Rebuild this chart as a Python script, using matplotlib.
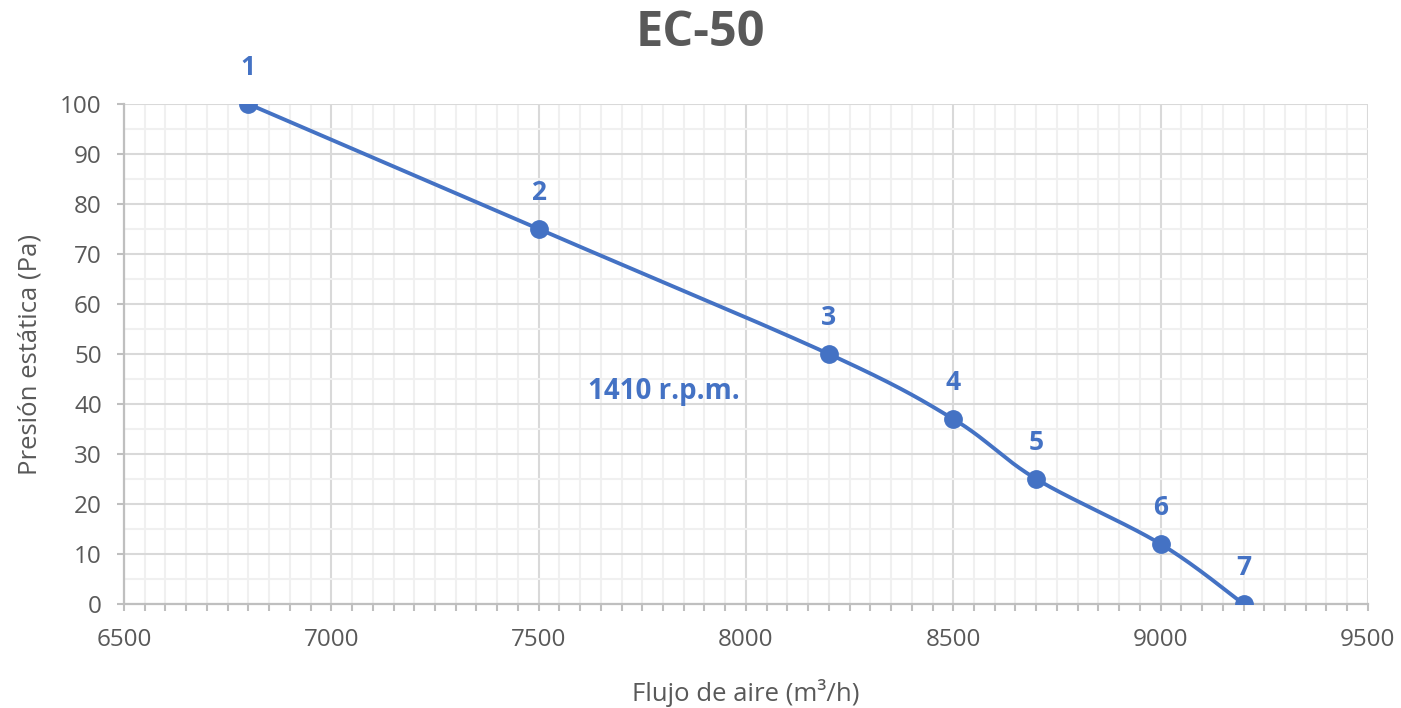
import numpy as np
import matplotlib
matplotlib.use("Agg")
import matplotlib.pyplot as plt
from matplotlib.ticker import MultipleLocator

flow = [6800, 7500, 8200, 8500, 8700, 9000, 9200]
pressure = [100, 75, 50, 37, 25, 12, 0]
point_labels = ["1", "2", "3", "4", "5", "6", "7"]
title = "EC-50"
xlabel = "Flujo de aire (m³/h)"
ylabel = "Presión estática (Pa)"
note = "1410 r.p.m."

plt.rcParams['font.family'] = ['Open Sans', 'DejaVu Sans']
BLUE = "#4472C4"
GRAY = "#595959"

fig = plt.figure(figsize=(14.01, 7.08), dpi=100)
ax = fig.add_axes([0.0885, 0.1469, 0.8879, 0.7062])

# Excel-like smoothed line (Bezier with 1/6 tension)
def smooth(xs, ys, n=40):
    P = np.column_stack([xs, ys]).astype(float)
    out = []
    for i in range(len(P) - 1):
        p0 = P[i - 1] if i > 0 else P[i]
        p1 = P[i]
        p2 = P[i + 1]
        p3 = P[i + 2] if i + 2 < len(P) else P[i + 1]
        c1 = p1 + (p2 - p0) / 6
        c2 = p2 - (p3 - p1) / 6
        t = np.linspace(0, 1, n)[:, None]
        seg = (1 - t) ** 3 * p1 + 3 * (1 - t) ** 2 * t * c1 + 3 * (1 - t) * t ** 2 * c2 + t ** 3 * p2
        out.append(seg if i == 0 else seg[1:])
    return np.vstack(out)

curve = smooth(flow, pressure)
ax.plot(curve[:, 0], curve[:, 1], color=BLUE, lw=2.8, zorder=3, solid_capstyle='round')
ax.plot(flow, pressure, 'o', color=BLUE, ms=12.5, zorder=4)

for x, y, lab in zip(flow, pressure, point_labels):
    ax.annotate(lab, (x, y), xytext=(0, 26), textcoords='offset points',
                ha='center', va='center', color=BLUE, fontsize=19, fontweight='bold')

ax.text(7802, 42.5, note, ha='center', va='center', color=BLUE, fontsize=20, fontweight='bold')

ax.set_xlim(6500, 9500)
ax.set_ylim(0, 100)
ax.xaxis.set_major_locator(MultipleLocator(500))
ax.xaxis.set_minor_locator(MultipleLocator(50))
ax.yaxis.set_major_locator(MultipleLocator(10))
ax.yaxis.set_minor_locator(MultipleLocator(5))

ax.grid(which='major', color='#d9d9d9', lw=1.5, zorder=0)
ax.grid(which='minor', color='#f0f0f0', lw=1.5, zorder=0)
ax.set_axisbelow(True)

for s in ['top', 'right']:
    ax.spines[s].set_visible(False)
for s in ['left', 'bottom']:
    ax.spines[s].set_color('#bfbfbf')
    ax.spines[s].set_linewidth(1.6)

ax.tick_params(axis='x', which='both', direction='out', length=5, width=1.5, color='#bfbfbf',
               labelsize=17.5, labelcolor=GRAY, pad=12)
ax.tick_params(axis='y', which='major', direction='out', length=5, width=1.5, color='#bfbfbf',
               labelsize=17.5, labelcolor=GRAY, pad=11)
ax.tick_params(axis='y', which='minor', length=0)

ax.set_xlabel(xlabel, fontsize=18.5, color=GRAY, labelpad=20)
ax.set_ylabel(ylabel, fontsize=18.5, color=GRAY, labelpad=13)
fig.text(0.5, 0.952, title, ha='center', va='center', fontsize=35, fontweight='bold', color=GRAY)

fig.savefig("out.png", dpi=100)
